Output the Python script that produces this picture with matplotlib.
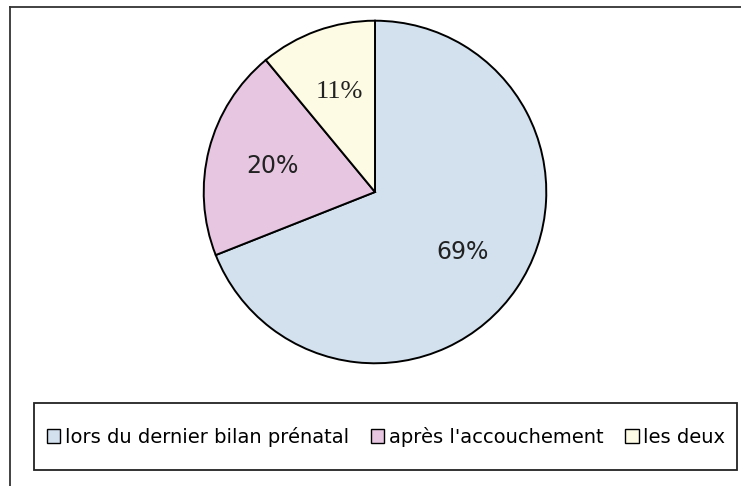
import numpy as np
import matplotlib.pyplot as plt
from matplotlib.patches import Rectangle
from matplotlib.lines import Line2D

labels = ["lors du dernier bilan prénatal", "après l'accouchement", "les deux"]
values = [69, 20, 11]
colors = ["#d3e1ef", "#e6c6e1", "#fdfbe4"]

W, H = 741, 486
fig = plt.figure(figsize=(W / 100, H / 100), dpi=100)

def fx(px):
    return px / W

def fy(py):
    return 1 - py / H

# outer frame (only left and top edges visible)
fig.add_artist(Line2D([fx(10), fx(10)], [fy(7), 0], color="#333333", lw=1.3))
fig.add_artist(Line2D([fx(10), 1], [fy(7), fy(7)], color="#333333", lw=1.3))

# pie
cx, cy, r = 375, 192, 173
ax = fig.add_axes([fx(cx - r), fy(cy + r), 2 * r / W, 2 * r / H])
wedges, texts, autotexts = ax.pie(
    values, colors=colors, startangle=90, counterclock=False,
    autopct="%d%%", pctdistance=0.62,
    wedgeprops=dict(edgecolor="black", linewidth=1.4),
    textprops=dict(fontsize=17, color="#222222"),
)
autotexts[2].set_fontfamily("Liberation Serif")
autotexts[2].set_fontsize(19)
ax.set_xlim(-1.01, 1.01)
ax.set_ylim(-1.01, 1.01)
ax.set_aspect("equal")
ax.axis("off")

# legend box
fig.add_artist(Rectangle((fx(34), fy(470)), fx(737) - fx(34), fy(403) - fy(470),
                         transform=fig.transFigure, fill=False,
                         edgecolor="#222222", lw=1.3))
leg = fig.legend(wedges, labels, loc="center", bbox_to_anchor=(fx(386), fy(437)),
                 ncol=3, frameon=False, fontsize=14, handlelength=0.7,
                 handleheight=0.7, handletextpad=0.25, columnspacing=1.1)
for h in leg.legend_handles:
    h.set_linewidth(1.0)

fig.savefig("out.png", dpi=100)
